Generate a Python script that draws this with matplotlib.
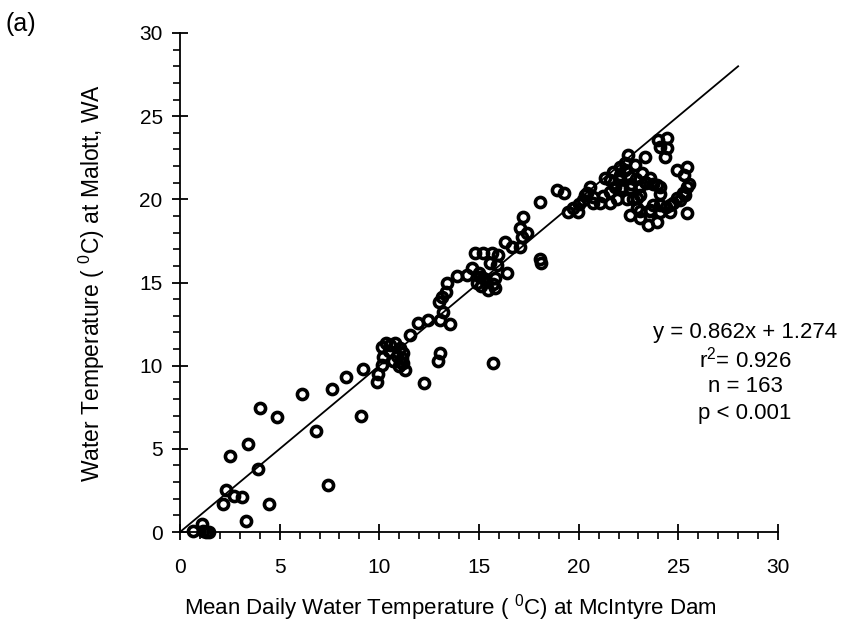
import matplotlib
matplotlib.use("Agg")
import matplotlib.pyplot as plt
from matplotlib.ticker import MultipleLocator

# Fuente tipo Helvetica y superindices en la misma fuente
plt.rcParams["font.family"] = ["Liberation Sans", "DejaVu Sans"]
plt.rcParams["mathtext.fontset"] = "custom"
plt.rcParams["mathtext.rm"] = "Liberation Sans"
plt.rcParams["mathtext.default"] = "regular"

# Temperatura media diaria en McIntyre Dam (x) y en Malott, WA (y)
temp_mcintyre = [
    0.67, 1.09, 1.17, 1.30, 1.47, 2.17, 2.31, 2.71, 3.10, 3.31, 2.51, 3.43, 3.90, 4.01, 4.48,
    4.88, 6.10, 6.81, 7.41, 7.61, 8.31, 9.16, 9.08,
    9.87, 9.95, 10.12, 10.17, 10.12, 10.34, 10.54, 10.79, 11.04, 11.20, 11.12, 11.20, 11.29,
    11.04, 10.50, 10.90, 11.00, 10.70, 12.22, 12.93, 13.02, 11.54, 11.93, 12.46, 13.05, 13.55,
    13.20, 13.00, 13.15, 13.35, 13.40,
    13.88, 14.38, 14.64, 14.80, 15.22, 15.64, 15.97, 15.55, 15.89, 15.05, 14.90, 15.10, 15.30,
    15.00, 15.20, 15.47, 15.80, 15.80, 15.70, 16.39, 16.31, 16.64, 17.06, 17.14, 17.39, 17.06,
    17.23, 18.06, 18.10, 15.68,
    18.06, 18.90, 19.24, 19.48, 19.74, 19.99, 20.00, 20.24, 20.32, 20.41, 20.57, 20.74, 20.70,
    21.07, 21.20, 21.57, 21.57, 21.57, 21.32, 21.74,
    21.83, 22.00, 22.08, 22.07, 22.30, 22.33, 22.49, 22.16, 22.10, 21.90, 22.40, 22.58, 22.58,
    22.75, 22.65, 22.83, 22.91, 23.08, 23.10, 22.92, 23.10, 22.58, 23.08, 23.33, 23.16, 23.33,
    23.40, 23.58, 23.50,
    23.75, 23.91, 24.08, 24.10, 23.91, 23.58, 23.75, 23.60, 24.08, 24.08, 24.40, 24.59, 24.59,
    24.75, 24.92, 25.09, 25.34, 25.25, 25.42, 25.55, 25.26, 25.42, 24.92, 25.42, 24.00, 24.42,
    24.08, 24.42, 24.33, 22.90,
]
temp_malott = [
    0.08, 0.48, 0.08, 0.00, 0.02, 1.68, 2.53, 2.16, 2.08, 0.68, 4.57, 5.27, 3.77, 7.47, 1.68,
    6.90, 8.30, 6.09, 2.80, 8.58, 9.30, 9.78, 6.98,
    9.04, 9.50, 10.04, 10.54, 11.14, 11.34, 11.24, 11.34, 11.04, 10.76, 10.44, 10.14, 9.74,
    10.20, 10.90, 10.60, 10.00, 10.30, 8.93, 10.30, 10.75, 11.85, 12.58, 12.75, 12.75, 12.50,
    13.20, 13.80, 14.15, 14.40, 14.95,
    15.40, 15.45, 15.88, 16.76, 16.76, 16.76, 16.66, 16.16, 16.06, 15.35, 15.00, 14.80, 15.20,
    15.60, 15.30, 14.55, 14.65, 15.25, 14.90, 15.56, 17.46, 17.16, 17.16, 17.76, 17.96, 18.26,
    18.96, 16.40, 16.20, 10.18,
    19.86, 20.56, 20.36, 19.26, 19.46, 19.26, 19.70, 19.96, 20.26, 20.37, 20.77, 20.17, 19.80,
    19.76, 20.20, 20.47, 19.76, 21.17, 21.27, 21.67,
    20.77, 21.17, 21.47, 21.97, 21.77, 22.17, 22.67, 20.77, 20.60, 20.00, 20.00, 20.67, 21.37,
    20.00, 20.90, 22.07, 20.07, 20.27, 20.80, 19.50, 19.30, 19.06, 18.86, 22.57, 21.57, 21.07,
    21.00, 21.27, 18.46,
    20.90, 20.87, 20.77, 20.30, 18.66, 19.36, 19.66, 19.30, 19.66, 19.26, 19.56, 19.66, 19.26,
    19.76, 20.07, 19.96, 20.27, 20.36, 20.76, 20.90, 21.47, 21.97, 21.77, 19.16, 23.57, 23.67,
    23.17, 23.07, 22.57, 21.20,
]

# Linea 1:1 dibujada en la figura original
linea_x = [0, 28]
linea_y = [0, 28]

texto_ajuste = ["y = 0.862x + 1.274", "r$^2$= 0.926", "n = 163", "p < 0.001"]

fig = plt.figure(figsize=(8.44, 6.25), dpi=100)
ax = fig.add_axes([0.2133, 0.1488, 0.7085, 0.7984])

ax.plot(linea_x, linea_y, color="black", linewidth=1.3)
ax.plot(temp_mcintyre, temp_malott, "o", markerfacecolor="none", markeredgecolor="black",
        markersize=7.3, markeredgewidth=2.6, clip_on=False)

ax.set_xlim(0, 30)
ax.set_ylim(0, 30)
ax.xaxis.set_major_locator(MultipleLocator(5))
ax.yaxis.set_major_locator(MultipleLocator(5))
ax.xaxis.set_minor_locator(MultipleLocator(1))
ax.yaxis.set_minor_locator(MultipleLocator(1))

for lado in ["top", "right"]:
    ax.spines[lado].set_visible(False)
for lado in ["left", "bottom"]:
    ax.spines[lado].set_linewidth(1.3)

ax.tick_params(which="major", direction="inout", length=11, width=1.3, labelsize=15)
ax.tick_params(which="minor", direction="out", length=5, width=1.2)
ax.tick_params(axis="x", which="major", pad=13)
ax.tick_params(axis="y", which="major", pad=7)

ax.set_xlabel("Mean Daily Water Temperature ( $^0$C) at McIntyre Dam", fontsize=16, va="center")
ax.set_ylabel("Water Temperature ( $^0$C) at Malott, WA", fontsize=16.5, va="center")
ax.xaxis.set_label_coords(0.452, -0.152)
ax.yaxis.set_label_coords(-0.148, 0.5)

# Texto de la regresion a la derecha del grafico
for i, linea in enumerate(texto_ajuste):
    ax.text(28.35, 12.0 - i * 1.62, linea, ha="center", va="center", fontsize=16, clip_on=False)

fig.text(0.006, 0.962, "(a)", fontsize=18, va="center", ha="left")

fig.savefig("out.png", dpi=100)
plt.close()
